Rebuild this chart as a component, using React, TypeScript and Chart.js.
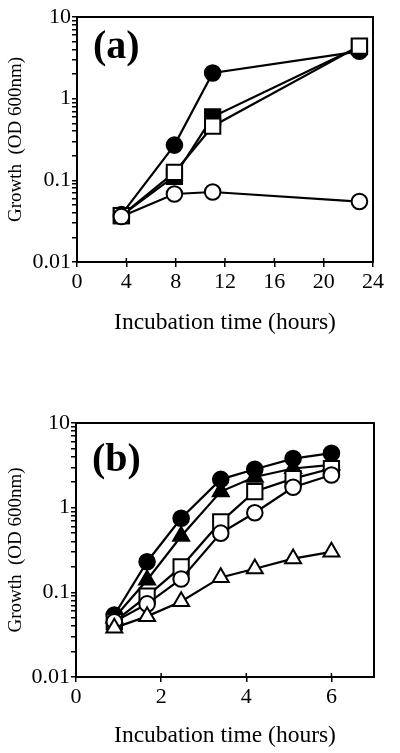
import React, { useEffect, useRef } from 'react';
import { Chart, registerables } from 'chart.js';

Chart.register(...registerables);

const FONT = "'Liberation Serif', 'Times New Roman', Times, serif";

// ---- Panel (a) data ----
const aTimes = [3.6, 7.9, 11, 22.9];
const aFilledCircle = [0.038, 0.27, 2.06, 3.8];
const aFilledSquare = [0.037, 0.112, 0.6, 4.35];
const aOpenSquare = [0.037, 0.125, 0.46, 4.4];
const aOpenCircle = [0.036, 0.068, 0.072, 0.055];

// ---- Panel (b) data ----
const bTimes = [0.9, 1.67, 2.47, 3.4, 4.2, 5.1, 6.0];
const bFilledCircle = [0.054, 0.23, 0.75, 2.16, 2.84, 3.8, 4.4];
const bFilledTriangle = [0.05, 0.14, 0.46, 1.55, 2.3, 2.9, 3.2];
const bOpenSquare = [0.045, 0.09, 0.2, 0.68, 1.55, 2.2, 2.9];
const bOpenCircle = [0.045, 0.073, 0.144, 0.5, 0.87, 1.74, 2.43];
const bOpenTriangle = [0.038, 0.052, 0.078, 0.15, 0.19, 0.25, 0.3];

const yDecades = [0.01, 0.1, 1, 10];
const yMajorLabels = ['0.01', '0.1', '1', '10'];
const yMinorMultipliers = [2, 3, 4, 5, 6, 7, 8, 9];
const xTitle = 'Incubation time (hours)';
const yTitle = 'Growth  (OD 600nm)';

const pts = (xs: number[], ys: number[]) => xs.map((x, i) => ({ x, y: ys[i] }));

type Marker = { style: string; filled: boolean; radius: number };
const CIRCLE_F: Marker = { style: 'circle', filled: true, radius: 7.8 };
const CIRCLE_O: Marker = { style: 'circle', filled: false, radius: 7.8 };
const SQUARE_F: Marker = { style: 'rect', filled: true, radius: 10.8 };
const SQUARE_O: Marker = { style: 'rect', filled: false, radius: 10.8 };
const TRI_F: Marker = { style: 'triangle', filled: true, radius: 9.2 };
const TRI_O: Marker = { style: 'triangle', filled: false, radius: 9.2 };

function ds(label: string, xs: number[], ys: number[], m: Marker, order: number) {
  return {
    label,
    data: pts(xs, ys),
    borderColor: '#000',
    borderWidth: 2.2,
    backgroundColor: m.filled ? '#000' : '#fff',
    pointStyle: m.style,
    pointRadius: m.radius,
    pointBorderWidth: 2,
    pointBorderColor: '#000',
    pointBackgroundColor: m.filled ? '#000' : '#fff',
    order,
    tension: 0,
  };
}

type PanelCfg = {
  tag: string;
  tagY: number;
  height: number;
  plotTop: number;
  plotBottom: number;
  plotLeft: number;
  plotRight: number;
  xMax: number;
  xStep: number;
  titlePadBottom: number;
  datasets: any[];
};

function makeChart(canvas: HTMLCanvasElement, p: PanelCfg) {
  const framePlugin = {
    id: 'frame' + p.tag,
    afterDatasetsDraw(chart: any) {
      const { ctx, chartArea } = chart;
      ctx.save();
      ctx.strokeStyle = '#000';
      ctx.lineWidth = 2;
      ctx.strokeRect(chartArea.left, chartArea.top, chartArea.right - chartArea.left, chartArea.bottom - chartArea.top);
      // inward x ticks
      const xs = chart.scales.x;
      ctx.lineWidth = 1.5;
      xs.ticks.forEach((t: any) => {
        const px = xs.getPixelForValue(t.value);
        ctx.beginPath();
        ctx.moveTo(px, chartArea.bottom);
        ctx.lineTo(px, chartArea.bottom - 4);
        ctx.stroke();
      });
      // panel tag
      ctx.fillStyle = '#000';
      ctx.font = `bold 40px ${FONT}`;
      ctx.textBaseline = 'alphabetic';
      ctx.textAlign = 'left';
      ctx.fillText(p.tag, chartArea.left + 16, p.tagY);
      ctx.restore();
    },
  };

  return new Chart(canvas, {
    type: 'line',
    data: { datasets: p.datasets },
    plugins: [framePlugin],
    options: {
      responsive: false,
      animation: false,
      layout: { padding: { top: p.plotTop, right: 400 - p.plotRight, left: 0, bottom: 0 } },
      plugins: { legend: { display: false }, tooltip: { enabled: false }, title: { display: false } },
      scales: {
        x: {
          type: 'linear',
          min: 0,
          max: p.xMax,
          afterBuildTicks: (scale: any) => {
            scale.ticks = scale.ticks.filter((t: any) => Math.abs(t.value / p.xStep - Math.round(t.value / p.xStep)) < 1e-6);
          },
          afterFit: (scale: any) => {
            scale.height = p.height - p.plotBottom;
          },
          ticks: {
            stepSize: p.xStep,
            color: '#000',
            font: { family: FONT, size: 22 },
            padding: 2,
            maxRotation: 0,
            autoSkip: false,
          },
          grid: { drawOnChartArea: false, tickLength: 5, color: '#000', lineWidth: 1.5 },
          border: { color: '#000', width: 2 },
          title: {
            display: true,
            text: xTitle,
            color: '#000',
            font: { family: FONT, size: 23.5 },
            padding: { top: 0, bottom: p.titlePadBottom },
          },
        },
        y: {
          type: 'logarithmic',
          min: 0.01,
          max: 10,
          afterBuildTicks: (scale: any) => {
            const ticks: any[] = [];
            yDecades.forEach((d, i) => {
              ticks.push({ value: d, major: true });
              if (i < yDecades.length - 1) yMinorMultipliers.forEach((m) => ticks.push({ value: d * m, major: false }));
            });
            scale.ticks = ticks;
          },
          afterFit: (scale: any) => {
            scale.width = p.plotLeft;
          },
          ticks: {
            color: '#000',
            font: { family: FONT, size: 22 },
            padding: 1,
            autoSkip: false,
            callback: (v: any) => {
              const idx = yDecades.findIndex((d) => Math.abs(d - Number(v)) / d < 1e-6);
              return idx >= 0 ? yMajorLabels[idx] : '';
            },
          },
          grid: { drawOnChartArea: false, tickLength: 5, color: '#000', lineWidth: 1.5 },
          border: { color: '#000', width: 2 },
          title: {
            display: true,
            text: yTitle,
            color: '#000',
            font: { family: FONT, size: 19 },
            padding: { top: 5, bottom: 0 },
          },
        },
      },
    } as any,
  });
}

function Panel({ cfg, top }: { cfg: PanelCfg; top: number }) {
  const ref = useRef<HTMLCanvasElement>(null);
  useEffect(() => {
    if (!ref.current) return;
    const c = makeChart(ref.current, cfg);
    return () => c.destroy();
  }, []);
  return (
    <canvas
      ref={ref}
      width={400}
      height={cfg.height}
      style={{ position: 'absolute', left: 0, top, width: 400, height: cfg.height }}
    />
  );
}

const panelA: PanelCfg = {
  tag: '(a)',
  tagY: 58,
  height: 345,
  plotTop: 17,
  plotBottom: 262,
  plotLeft: 77,
  plotRight: 373,
  xMax: 24,
  xStep: 4,
  titlePadBottom: 8,
  datasets: [
    ds('open circle', aTimes, aOpenCircle, CIRCLE_O, 0),
    ds('open square', aTimes, aOpenSquare, SQUARE_O, 1),
    ds('filled square', aTimes, aFilledSquare, SQUARE_F, 2),
    ds('filled circle', aTimes, aFilledCircle, CIRCLE_F, 3),
  ],
};

const B_TOP = 380;
const panelB: PanelCfg = {
  tag: '(b)',
  tagY: 471 - B_TOP,
  height: 373,
  plotTop: 423 - B_TOP,
  plotBottom: 677 - B_TOP,
  plotLeft: 76,
  plotRight: 374,
  xMax: 7,
  xStep: 2,
  titlePadBottom: 3,
  datasets: [
    ds('open triangle', bTimes, bOpenTriangle, TRI_O, 0),
    ds('open circle', bTimes, bOpenCircle, CIRCLE_O, 1),
    ds('open square', bTimes, bOpenSquare, SQUARE_O, 2),
    ds('filled circle', bTimes, bFilledCircle, CIRCLE_F, 3),
    ds('filled triangle', bTimes, bFilledTriangle, TRI_F, 4),
  ],
};

export default function App() {
  return (
    <div style={{ position: 'absolute', left: 0, top: 0, width: 400, height: 753, background: '#fff' }}>
      <Panel cfg={panelA} top={0} />
      <Panel cfg={panelB} top={B_TOP} />
    </div>
  );
}
